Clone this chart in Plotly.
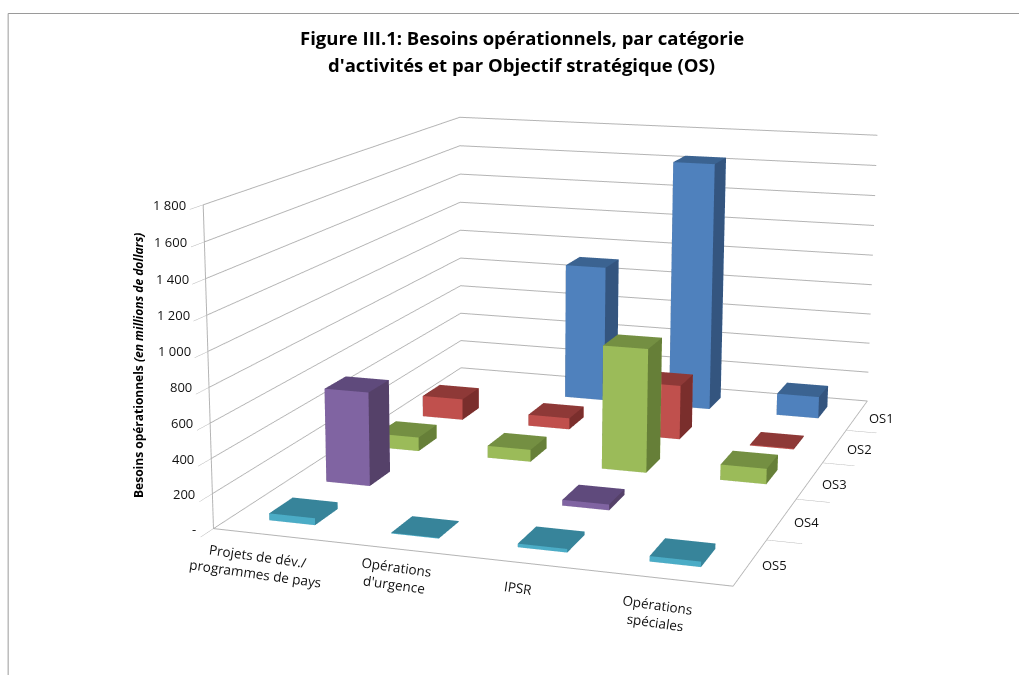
import plotly.graph_objects as go

categories = ["Projets de dév./<br>programmes de pays", "Opérations<br>d'urgence", "IPSR", "Opérations<br>spéciales"]
series_names = ["OS1", "OS2", "OS3", "OS4", "OS5"]
os1 = [None, 910, 1640, 143]
os2 = [137, 73, 347, 6]
os3 = [87, 75, 760, 94]
os4 = [565, None, 34, None]
os5 = [40, 4, 20, 30]
values = [os1, os2, os3, os4, os5]
z_ticks = [0, 200, 400, 600, 800, 1000, 1200, 1400, 1600, 1800]
z_labels = ["-", "200", "400", "600", "800", "1 000", "1 200", "1 400", "1 600", "1 800"]
front_colors = ["#4F81BD", "#C0504D", "#9BBB59", "#8064A2", "#4BACC6"]
top_colors = ["#3B6391", "#8E3937", "#748F42", "#5F4A7C", "#37849A"]
side_colors = ["#34557F", "#7A2E2C", "#667F38", "#554169", "#37849A"]

W = 0.19
D = 0.2
fig = go.Figure()
for s, vals in enumerate(values):
    yc = 4 - s
    xs, ys, zs, ii, jj, kk, fc = [], [], [], [], [], [], []
    for c, v in enumerate(vals):
        if v is None:
            continue
        n = len(xs)
        for z in (0, v):
            for dx, dy in ((-W, -D), (W, -D), (W, D), (-W, D)):
                xs.append(c + dx); ys.append(yc + dy); zs.append(z)
        quads = [((0, 1, 5, 4), front_colors[s]), ((1, 2, 6, 5), side_colors[s]),
                 ((4, 5, 6, 7), top_colors[s]), ((3, 2, 6, 7), front_colors[s]),
                 ((0, 3, 7, 4), side_colors[s]), ((0, 1, 2, 3), side_colors[s])]
        for (a, b, c2, d), col in quads:
            ii += [n + a, n + a]; jj += [n + b, n + c2]; kk += [n + c2, n + d]
            fc += [col, col]
    fig.add_trace(go.Mesh3d(x=xs, y=ys, z=zs, i=ii, j=jj, k=kk, facecolor=fc, flatshading=True,
                            lighting=dict(ambient=1, diffuse=0, specular=0, fresnel=0, roughness=1),
                            hoverinfo="skip", name=series_names[s], showscale=False))

font = dict(family="Open Sans, sans-serif", size=13, color="#111111")
cat_font = dict(family="Open Sans, sans-serif", size=13.5, color="#111111")
cat_xshift = [-18, -4, -10, -7]
cat_yshift = [0, -2, -11, -11]
scene_ann = []
for c, cat in enumerate(categories):
    scene_ann.append(dict(x=c, y=-0.5, z=0, text=cat, showarrow=False, textangle=8, font=cat_font,
                          xanchor="center", yanchor="top", xshift=cat_xshift[c], yshift=cat_yshift[c], align="center"))
for s, name in enumerate(series_names):
    scene_ann.append(dict(x=3.5, y=4 - s, z=0, text=name, showarrow=False, font=font,
                          xanchor="left", xshift=10, yshift=-3))
for t, lab in zip(z_ticks, z_labels):
    scene_ann.append(dict(x=-0.5, y=-0.5, z=t, text=lab, showarrow=False, font=font,
                          xanchor="right", xshift=-15))

grid = "#B4B4B4"
cx, cy, cz = -0.0905, -0.031, -0.0345
title_font = dict(family="Open Sans, sans-serif", size=18.5, color="black")
fig.update_layout(
    width=1019, height=675, margin=dict(l=0, r=0, t=0, b=0),
    paper_bgcolor="white", showlegend=False,
    annotations=[
        dict(x=0.512, y=0.945, xref="paper", yref="paper", xanchor="center", yanchor="middle",
             text="<b>Figure III.1: Besoins opérationnels, par catégorie</b>", showarrow=False, font=title_font),
        dict(x=0.512, y=0.904, xref="paper", yref="paper", xanchor="center", yanchor="middle",
             text="<b>d'activités et par Objectif stratégique (OS)</b>", showarrow=False, font=title_font),
        dict(x=0.1365, y=0.458, xref="paper", yref="paper", xanchor="center", yanchor="middle", textangle=-90, showarrow=False,
             text="<b>Besoins opérationnels <i>(en millions de dollars)</i></b>",
             font=dict(family="Open Sans, sans-serif", size=12, color="black")),
    ],
    shapes=[
        dict(type="line", xref="paper", yref="paper", x0=0.008, x1=1, y0=0.98, y1=0.98, line=dict(color="#9A9A9A", width=1)),
        dict(type="line", xref="paper", yref="paper", x0=0.008, x1=0.008, y0=0.98, y1=0, line=dict(color="#9A9A9A", width=1)),
    ],
    scene=dict(
        domain=dict(x=[0, 1], y=[0, 1]),
        aspectmode="manual", aspectratio=dict(x=0.71, y=0.96, z=0.438),
        camera=dict(eye=dict(x=1.011 + cx, y=-2.95 + cy, z=0.714 + cz), center=dict(x=cx, y=cy, z=cz), up=dict(x=0, y=0, z=1),
                    projection=dict(type="perspective")),
        xaxis=dict(title="", range=[-0.5, 3.5], tickvals=[], showgrid=False, zeroline=False,
                   showline=True, linecolor=grid, linewidth=2, showbackground=False, showspikes=False),
        yaxis=dict(title="", range=[-0.5, 4.5], tickvals=[0.5, 1.5, 2.5, 3.5], ticktext=["", "", "", ""], showgrid=False,
                   zeroline=False, showline=True, linecolor=grid, linewidth=2, ticks="outside", ticklen=8, tickcolor=grid,
                   showbackground=False, showspikes=False),
        zaxis=dict(title="", range=[0, 1800], tickvals=z_ticks, ticktext=[""] * len(z_ticks), gridcolor=grid, gridwidth=2,
                   showgrid=True, zeroline=False, showline=True, linecolor=grid, linewidth=2, ticks="outside", ticklen=8,
                   tickcolor=grid, showbackground=False, showspikes=False),
        annotations=scene_ann,
    ),
)
narrow_lens = """
document.body.style.margin='0';
var gd=document.getElementById('{plot_id}');
function narrowLens(){
  var sc=gd._fullLayout&&gd._fullLayout.scene&&gd._fullLayout.scene._scene;
  if(sc&&sc.glplot){sc.glplot.fovy=0.3077;sc.glplot.redraw();}
}
narrowLens();setTimeout(narrowLens,100);setTimeout(narrowLens,500);
"""
fig.write_html("out.html", config={"displayModeBar": False}, post_script=narrow_lens)
